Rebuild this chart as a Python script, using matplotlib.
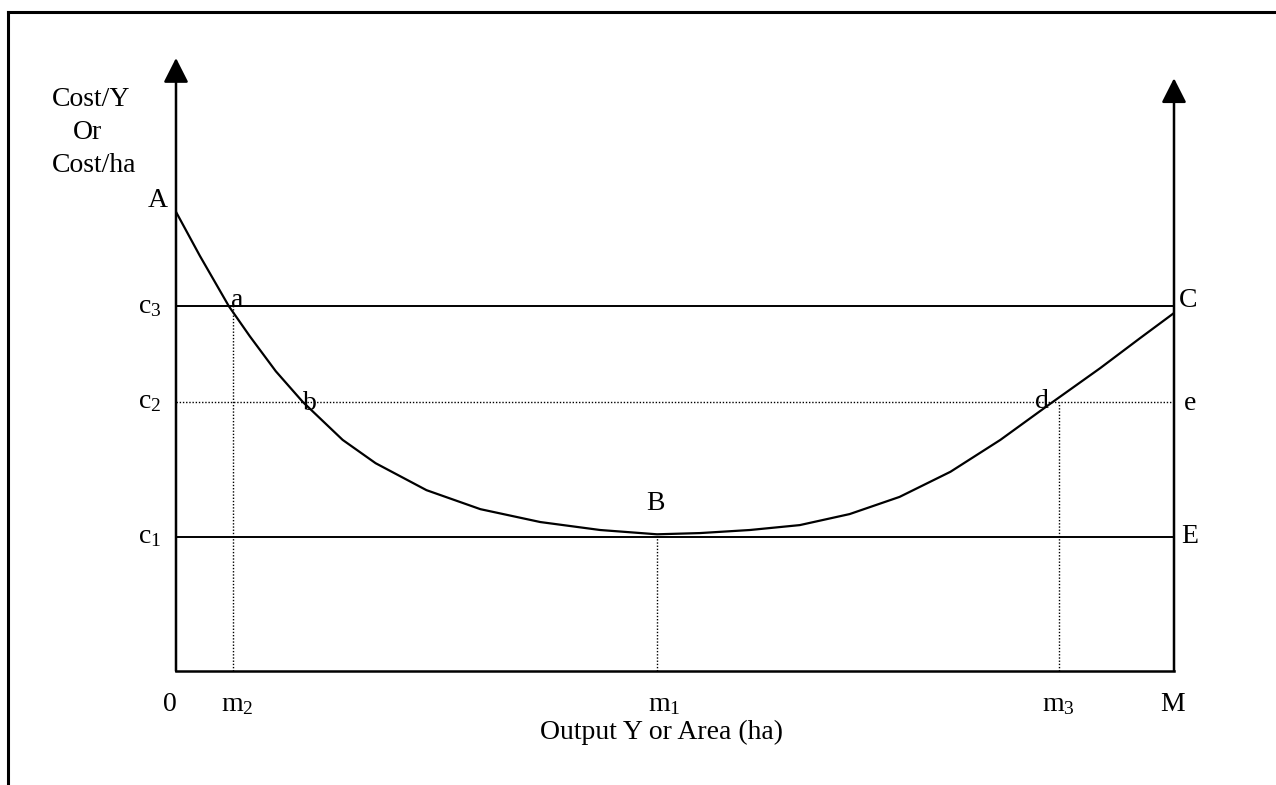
import matplotlib
matplotlib.use("Agg")
import matplotlib.pyplot as plt
from matplotlib.lines import Line2D

plt.rcParams['font.family'] = ['Liberation Serif', 'DejaVu Serif']
plt.rcParams['mathtext.fontset'] = 'custom'
plt.rcParams['mathtext.rm'] = 'Liberation Serif'
plt.rcParams['mathtext.it'] = 'Liberation Serif:italic'

# cost levels and output points (axis units, 0..10)
c1, c2, c3 = 2.19, 4.39, 5.95
m2, m1, m3, M = 0.57, 4.82, 8.85, 10.0
y_top_left, y_top_right = 10.0, 9.67

# average cost curve
curve_x = [0.0, 0.24, 0.53, 0.74, 1.00, 1.27, 1.67, 2.00, 2.51, 3.05,
           3.65, 4.25, 4.82, 5.25, 5.75, 6.25, 6.75, 7.25, 7.76, 8.26,
           8.76, 9.26, 9.66, 10.0]
curve_y = [7.49, 6.77, 5.95, 5.46, 4.89, 4.39, 3.77, 3.39, 2.95, 2.64,
           2.43, 2.30, 2.23, 2.25, 2.30, 2.38, 2.56, 2.84, 3.25, 3.77,
           4.36, 4.94, 5.43, 5.84]

fig = plt.figure(figsize=(12.76, 7.85), dpi=100)

# outer frame (top and left only)
fig.add_artist(Line2D([8 / 1276, 1.0], [1 - 12 / 785] * 2, color='black', lw=2.2))
fig.add_artist(Line2D([8 / 1276] * 2, [0.0, 1 - 12 / 785], color='black', lw=2.2))

ax = fig.add_axes([176 / 1276, 114 / 785, 998 / 1276, 613 / 785])
ax.set_xlim(0, 10)
ax.set_ylim(0, 10)
ax.axis('off')

arrow = dict(arrowstyle='-|>,head_length=0.75,head_width=0.38',
             mutation_scale=20, lw=1.8, color='black', shrinkA=0, shrinkB=0)
ax.annotate('', xy=(0, y_top_left), xytext=(0, 0), arrowprops=arrow,
            annotation_clip=False)
ax.annotate('', xy=(M, y_top_right), xytext=(M, 0), arrowprops=arrow,
            annotation_clip=False)
ax.plot([0, M], [0, 0], color='black', lw=1.8, clip_on=False)

# cost levels
ax.plot([0, M], [c3, c3], color='black', lw=1.4)
ax.plot([0, M], [c1, c1], color='black', lw=1.4)
ax.plot([0, M], [c2, c2], color='black', lw=1.0, ls=(0, (1, 1.3)))

# output drop lines
ax.plot([m2, m2], [0, c3], color='black', lw=1.0, ls=(0, (1, 1.3)))
ax.plot([m1, m1], [0, c1], color='black', lw=1.0, ls=(0, (1, 1.3)))
ax.plot([m3, m3], [0, c2], color='black', lw=1.0, ls=(0, (1, 1.3)))

ax.plot(curve_x, curve_y, color='black', lw=1.6, solid_joinstyle='round')

fs = 20
kw = dict(fontsize=fs, ha='center', va='center', clip_on=False)
ax.text(-1.24, 9.33, 'Cost/Y', fontsize=fs, ha='left', va='center')
ax.text(-1.03, 8.79, 'Or', fontsize=fs, ha='left', va='center')
ax.text(-1.24, 8.25, 'Cost/ha', fontsize=fs, ha='left', va='center')

ax.text(-0.18, 7.68, 'A', **kw)
ax.text(-0.26, c3, r'c$_3$', **kw)
ax.text(-0.26, c2, r'c$_2$', **kw)
ax.text(-0.26, c1, r'c$_1$', **kw)

ax.text(0.61, 6.05, 'a', **kw)
ax.text(1.34, 4.37, 'b', **kw)
ax.text(4.80, 2.74, 'B', **kw)
ax.text(8.68, 4.39, 'd', **kw)
ax.text(10.14, 6.05, 'C', **kw)
ax.text(10.16, 4.37, 'e', **kw)
ax.text(10.16, 2.19, 'E', **kw)

ax.text(-0.06, -0.54, '0', **kw)
ax.text(0.61, -0.54, r'm$_2$', **kw)
ax.text(4.89, -0.54, r'm$_1$', **kw)
ax.text(8.84, -0.54, r'm$_3$', **kw)
ax.text(9.99, -0.54, 'M', **kw)
ax.text(4.86, -1.01, 'Output Y or Area (ha)', **kw)

fig.savefig('out.png', dpi=100)
